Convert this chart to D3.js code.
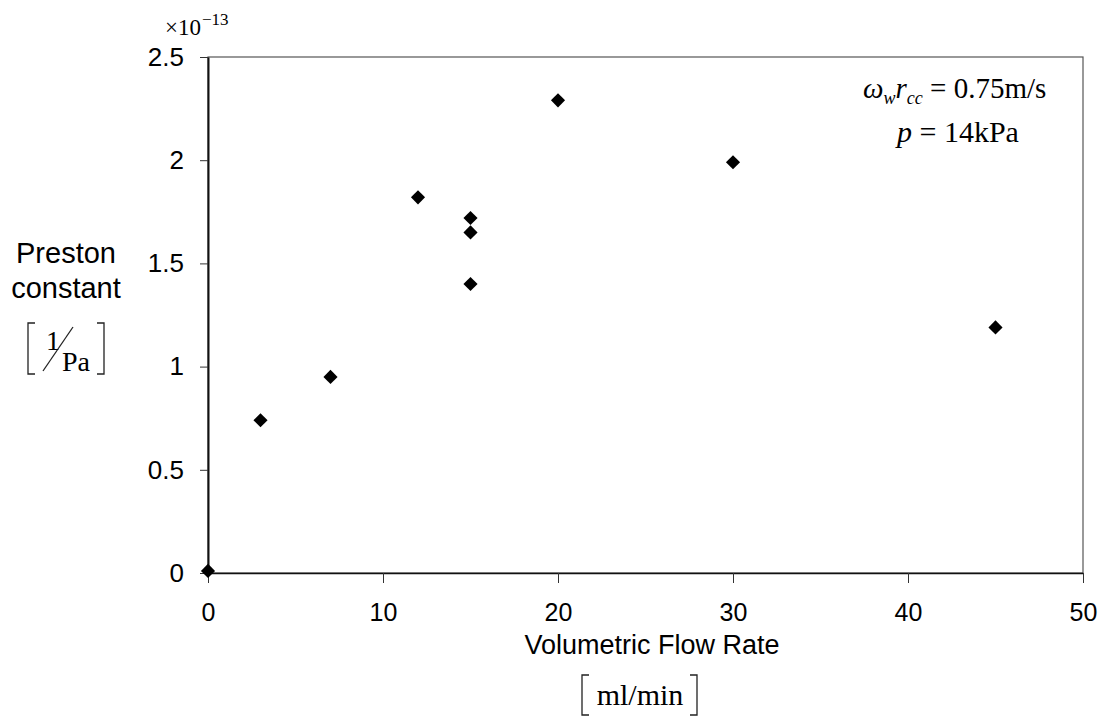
<!DOCTYPE html>
<html>
<head>
<meta charset="utf-8">
<script src="https://cdn.jsdelivr.net/npm/d3@7"></script>
<style>
  body { margin: 0; background: #fff; }
  .sans { font-family: "Liberation Sans", Arial, sans-serif; }
  .serif { font-family: "Liberation Serif", "Times New Roman", serif; }
</style>
</head>
<body>
<div id="chart"></div>
<script>
// data (Preston constant in units of 1e-13 1/Pa)
let flowRate = [0, 3, 7, 12, 15, 15, 15, 20, 30, 45];
let preston  = [0.01, 0.74, 0.95, 1.82, 1.72, 1.65, 1.40, 2.29, 1.99, 1.19];
let xTicks = [0, 10, 20, 30, 40, 50];
let yTicks = [0, 0.5, 1, 1.5, 2, 2.5];

let margin = {top: 57, right: 24, bottom: 146, left: 208},
    width = 1107 - margin.left - margin.right,
    height = 719 - margin.top - margin.bottom;

let root = d3.select("#chart")
             .append("svg")
             .attr("width", 1107)
             .attr("height", 719);

root.append("rect").attr("width", 1107).attr("height", 719).attr("fill", "#fff");

let svg = root.append("g")
              .attr("transform", "translate(" + margin.left + "," + margin.top + ")");

let x = d3.scaleLinear().domain([0, 50]).range([0, width]);
let y = d3.scaleLinear().domain([0, 2.5]).range([height, 0]);

// frame
svg.append("rect")
   .attr("width", width)
   .attr("height", height)
   .attr("fill", "none")
   .attr("stroke", "#555")
   .attr("stroke-width", 1.2);

let xAxis = svg.append("g")
   .attr("transform", "translate(0," + height + ")")
   .call(d3.axisBottom(x).tickValues(xTicks).tickSize(10).tickPadding(20).tickSizeOuter(0));

let yAxis = svg.append("g")
   .call(d3.axisLeft(y).tickValues(yTicks).tickSize(8).tickPadding(16).tickSizeOuter(0)
           .tickFormat(d3.format("~g")));

[xAxis, yAxis].forEach(function(a) {
  a.select(".domain").attr("stroke", "#111").attr("stroke-width", 2);
  a.selectAll(".tick line").attr("stroke", "#333").attr("stroke-width", 1);
  a.selectAll(".tick text").attr("fill", "#000").style("font-size", "26px")
   .style("font-family", "'Liberation Sans', Arial, sans-serif");
});
xAxis.select(".domain").attr("stroke-width", 1.5);
xAxis.selectAll(".tick text").style("font-size", "25px");

// points
let pts = flowRate.map(function(d, i) { return {x: d, y: preston[i]}; });
svg.selectAll(".pt")
   .data(pts)
   .enter().append("path")
   .attr("class", "pt")
   .attr("d", d3.symbol().type(d3.symbolSquare).size(100))
   .attr("transform", function(d) { return "translate(" + x(d.x) + "," + y(d.y) + ") rotate(45)"; })
   .attr("fill", "#000");

// exponent
let expo = root.append("text").attr("class", "serif").attr("x", 165).attr("y", 35).attr("fill", "#000");
expo.append("tspan").style("font-size", "23px").text("×10");
expo.append("tspan").attr("dx", 1).attr("dy", -10).style("font-size", "17px").text("−13");

// annotation
let a1 = root.append("text").attr("class", "serif").attr("x", 863).attr("y", 98)
             .attr("fill", "#000").style("font-size", "29px");
a1.append("tspan").style("font-style", "italic").text("ω");
a1.append("tspan").attr("dy", 6).style("font-style", "italic").style("font-size", "18px").text("w");
a1.append("tspan").attr("dy", -6).style("font-style", "italic").text("r");
a1.append("tspan").attr("dy", 6).style("font-style", "italic").style("font-size", "18px").text("cc");
a1.append("tspan").attr("dy", -6).text(" = 0.75m/s");

let a2 = root.append("text").attr("class", "serif").attr("x", 897).attr("y", 142)
             .attr("fill", "#000").style("font-size", "30px");
a2.append("tspan").style("font-style", "italic").text("p");
a2.append("tspan").text(" = 14kPa");

// y label
root.append("text").attr("class", "sans").attr("x", 66).attr("y", 263)
    .attr("text-anchor", "middle").style("font-size", "29px").text("Preston");
root.append("text").attr("class", "sans").attr("x", 66).attr("y", 298)
    .attr("text-anchor", "middle").style("font-size", "29px").text("constant");

let br = root.append("g").attr("stroke", "#222").attr("stroke-width", 1.3).attr("fill", "none");
br.append("path").attr("d", "M35,323H28V374H35");
br.append("path").attr("d", "M97,323H104V374H97");
br.append("line").attr("x1", 43).attr("y1", 371).attr("x2", 73).attr("y2", 327);
root.append("text").attr("class", "serif").attr("x", 46).attr("y", 350)
    .style("font-size", "28px").text("1");
root.append("text").attr("class", "serif").attr("x", 62).attr("y", 371)
    .style("font-size", "28px").text("Pa");

// x label
root.append("text").attr("class", "sans").attr("x", 652).attr("y", 654)
    .attr("text-anchor", "middle").style("font-size", "27px").text("Volumetric Flow Rate");
br.append("path").attr("d", "M589,675H582V715H589");
br.append("path").attr("d", "M690,675H697V715H690");
root.append("text").attr("class", "serif").attr("x", 640).attr("y", 705)
    .attr("text-anchor", "middle").style("font-size", "30px").text("ml/min");
</script>
</body>
</html>
